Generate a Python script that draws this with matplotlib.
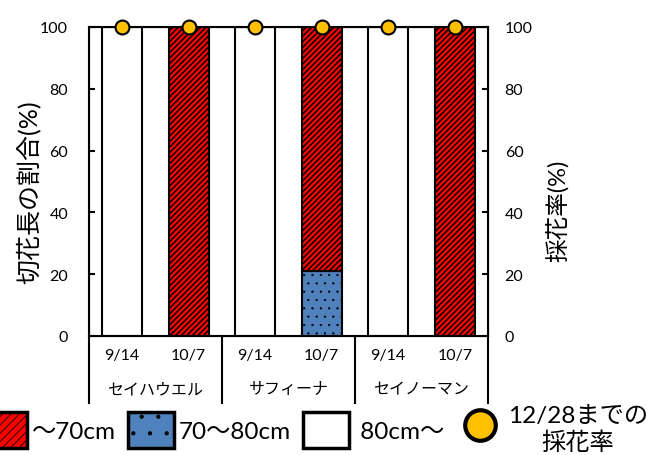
import numpy as np
import matplotlib
matplotlib.use("Agg")
from matplotlib import pyplot as plt
from matplotlib.patches import Patch
from matplotlib.lines import Line2D
import matplotlib.transforms as mtransforms

plt.rcParams['font.family'] = ['Lato', 'Noto Sans CJK JP', 'DejaVu Sans']
plt.rcParams['hatch.linewidth'] = 1.1

# cultivars and survey dates
varieties = ['セイハウエル', 'サフィーナ', 'セイノーマン']
dates = ['9/14', '10/7']

# share of cut-flower length classes (%)
len_70_80 = [0, 0, 0, 21, 0, 0]
len_under70 = [0, 100, 0, 79, 0, 100]
len_over80 = [100, 0, 100, 0, 100, 0]
# harvest rate until 12/28 (%)
harvest_rate = [100, 100, 100, 100, 100, 100]

red = '#FF0000'
blue = '#4F81BD'
gold = '#FFC000'


def thin_dots(patches, lw=0.4):
    # smaller dots for the dotted pattern
    for p in patches:
        if hasattr(p, 'set_hatch_linewidth'):
            p.set_hatch_linewidth(lw)


fig = plt.figure(figsize=(6.48, 4.56), dpi=100)
ax = fig.add_axes([0.1373, 0.261, 0.6158, 0.6776])

x = np.arange(len(varieties) * len(dates))
w = 0.6
b1 = np.array(len_70_80)
b2 = b1 + np.array(len_under70)
mid = ax.bar(x, len_70_80, w, color=blue, edgecolor='black', hatch='..', linewidth=1.5)
thin_dots(mid)
ax.bar(x, len_under70, w, bottom=b1, color=red, edgecolor='black', hatch='//////', linewidth=1.5)
ax.bar(x, len_over80, w, bottom=b2, color='white', edgecolor='black', linewidth=1.5)

ax.set_xlim(-0.5, len(x) - 0.5)
ax.set_ylim(0, 100)
ax.set_yticks(range(0, 101, 20))
ax.set_xticks(x)
ax.set_xticklabels(dates * len(varieties))
ax.tick_params(axis='x', length=0, pad=9, labelsize=11.5)
ax.tick_params(axis='y', direction='in', length=4, width=1.5, pad=15, labelsize=11.5)
for s in ax.spines.values():
    s.set_linewidth(1.5)

# two-level category axis: group names and separators
trans = mtransforms.blended_transform_factory(ax.transData, ax.transAxes)
n = len(dates)
for i, name in enumerate(varieties):
    ax.text(i * n + (n - 1) / 2, -0.172, name, transform=trans,
            ha='center', va='center', fontsize=11.5)
for i in range(len(varieties) + 1):
    xb = i * n - 0.5
    ax.plot([xb, xb], [0, -0.217], transform=trans, color='black',
            lw=1.5, clip_on=False)

ax.text(-0.153, 0.469, '切花長の割合(%)', transform=ax.transAxes, rotation=90,
        ha='center', va='center', fontsize=18)

ax2 = ax.twinx()
ax2.set_ylim(0, 100)
ax2.set_yticks(range(0, 101, 20))
ax2.tick_params(axis='y', direction='in', length=4, width=1.5, pad=12, labelsize=11.5)
ax2.plot(x, harvest_rate, 'o', color=gold, markeredgecolor='black',
         markersize=10, markeredgewidth=1.5, clip_on=False, zorder=5)
ax2.text(1.173, 0.408, '採花率(%)', transform=ax.transAxes, rotation=90,
         ha='center', va='center', fontsize=17)

dot_handle = Patch(facecolor=blue, edgecolor='black', hatch='.', linewidth=2.5)
thin_dots([dot_handle], 0.6)
handles = [
    Patch(facecolor=red, edgecolor='black', hatch='////', linewidth=2.5),
    dot_handle,
    Patch(facecolor='white', edgecolor='black', linewidth=2.5),
    Line2D([], [], marker='o', linestyle='none', color=gold,
           markeredgecolor='black', markersize=22, markeredgewidth=3),
]
labels = ['～70cm', '70～80cm', ' 80cm～', '12/28までの\n採花率']
leg = fig.legend(handles, labels, ncol=4, loc='center',
                 bbox_to_anchor=(0.485, 0.057), frameon=False, fontsize=17.5,
                 handlelength=1.9, handleheight=1.9, handletextpad=0.2,
                 columnspacing=0.5, borderpad=0, borderaxespad=0)
for t in leg.get_texts():
    t.set_multialignment('center')
thin_dots(leg.get_patches(), 0.6)

fig.savefig('out.png', dpi=100)
